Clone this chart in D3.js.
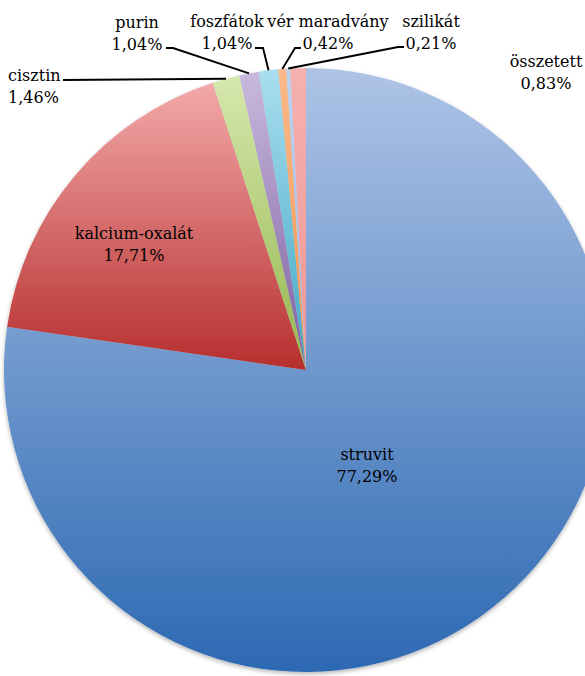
<!DOCTYPE html>
<html>
<head>
<meta charset="utf-8">
<script src="https://cdn.jsdelivr.net/npm/d3@7"></script>
<style>
  html, body { margin: 0; padding: 0; background: #fff; overflow: hidden; }
  svg { display: block; }
</style>
</head>
<body>
<svg id="chart" width="585" height="676"></svg>
<script>
// ---- data ----
const categories = ["struvit", "kalcium-oxalát", "cisztin", "purin", "foszfátok", "vér maradvány", "szilikát", "összetett"];
const values = [77.29, 17.71, 1.46, 1.04, 1.04, 0.42, 0.21, 0.83];
const colorsTop = ["#aec4e6", "#f3a9a9", "#d6e8ad", "#c9b9de", "#a9def0", "#f9b98a", "#bcd2f0", "#f5b0b0"];
const colorsBottom = ["#2d69b3", "#b72e2e", "#93b64d", "#7d5f9f", "#40a6c3", "#f5934a", "#9ab8e4", "#ee9696"];

// ---- layout (annotation placement only) ----
const W = 585, H = 676;
const cx = 306, cy = 370, R = 302;
const labelLayout = [
  { x: 367, y: 460, anchor: "middle", elbow: null, inside: true },
  { x: 134, y: 239, anchor: "middle", elbow: null, inside: true },
  { x: 8, y: 81, anchor: "start", elbow: [[63, 80]] },
  { x: 137, y: 28, anchor: "middle", elbow: [[173, 48], [166, 48]] },
  { x: 227, y: 27, anchor: "middle", elbow: [[263, 48], [255, 48]] },
  { x: 328, y: 27, anchor: "middle", elbow: [[295, 48], [301, 48]] },
  { x: 431, y: 27, anchor: "middle", elbow: [[398, 47], [404, 47]] },
  { x: 546, y: 67, anchor: "middle", elbow: null }
];
const lineGap = 22;

const fmtLocale = d3.formatLocale({ decimal: ",", thousands: " ", grouping: [3], currency: ["", ""] });
const fmt = v => fmtLocale.format(".2f")(v) + "%";

const svg = d3.select("#chart");
const defs = svg.append("defs");

categories.forEach((c, i) => {
  const g = defs.append("linearGradient")
    .attr("id", "grad" + i)
    .attr("x1", 0).attr("y1", 0).attr("x2", 0).attr("y2", 1);
  g.append("stop").attr("offset", "0%").attr("stop-color", colorsTop[i]);
  g.append("stop").attr("offset", "100%").attr("stop-color", colorsBottom[i]);
});

const shadow = defs.append("filter").attr("id", "shadow")
  .attr("x", "-10%").attr("y", "-10%").attr("width", "120%").attr("height", "120%");
shadow.append("feDropShadow").attr("dx", 0).attr("dy", 2).attr("stdDeviation", 2)
  .attr("flood-color", "#000").attr("flood-opacity", 0.3);

const pie = d3.pie().sort(null).value(d => d).startAngle(0).endAngle(2 * Math.PI);
const arcs = pie(values);
const arc = d3.arc().innerRadius(0).outerRadius(R);

const g = svg.append("g").attr("transform", `translate(${cx},${cy})`).attr("filter", "url(#shadow)");
g.selectAll("path.slice")
  .data(arcs)
  .join("path")
  .attr("class", "slice")
  .attr("d", arc)
  .attr("fill", (d, i) => `url(#grad${i})`);

// leader lines
const outerPt = d => {
  const a = (d.startAngle + d.endAngle) / 2;
  return [cx + R * Math.sin(a), cy - R * Math.cos(a)];
};
const lineGen = d3.line();
arcs.forEach((d, i) => {
  const L = labelLayout[i];
  if (!L.elbow) return;
  const pts = [outerPt(d)].concat(L.elbow);
  svg.append("path")
    .attr("d", lineGen(pts))
    .attr("fill", "none")
    .attr("stroke", "#000")
    .attr("stroke-width", 1.9);
});

// labels
arcs.forEach((d, i) => {
  const L = labelLayout[i];
  const t = svg.append("text")
    .attr("text-anchor", L.anchor)
    .attr("font-family", "'DejaVu Serif', serif")
    .attr("font-size", 16)
    .attr("fill", "#000");
  t.append("tspan").attr("x", L.x).attr("y", L.y).text(categories[i]);
  t.append("tspan").attr("x", L.x).attr("y", L.y + lineGap).text(fmt(values[i]));
});
</script>
</body>
</html>
